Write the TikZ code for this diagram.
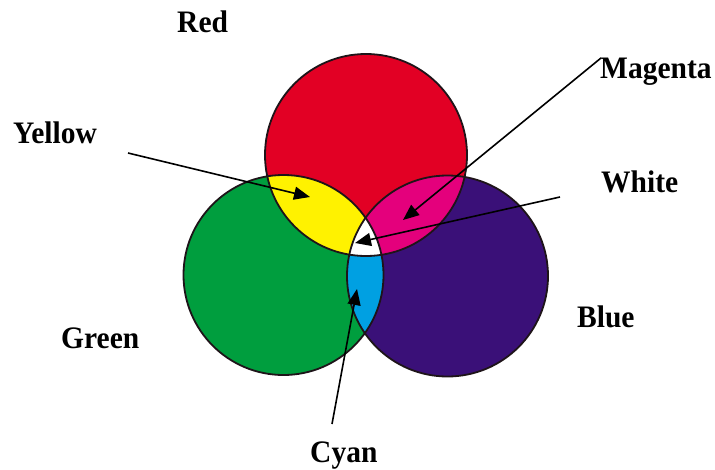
\documentclass[tikz,border=0pt]{standalone}
\usepackage{fontspec}
\setmainfont{Liberation Serif}
\usetikzlibrary{arrows.meta}
\definecolor{cred}{RGB}{226,0,36}
\definecolor{cgreen}{RGB}{0,158,62}
\definecolor{cblue}{RGB}{58,16,120}
\definecolor{cyellow}{RGB}{255,242,0}
\definecolor{cmagenta}{RGB}{228,0,124}
\definecolor{ccyan}{RGB}{0,160,226}
\definecolor{cline}{RGB}{30,20,25}
\begin{document}
\begin{tikzpicture}[x=1pt,y=-1pt,
  lbl/.style={anchor=base west,inner sep=0pt,yscale=1.06,font=\fontsize{29.5}{31}\selectfont\bfseries},
  ptr/.style={line width=1.6pt,-{Triangle[length=16pt,width=13pt]}},
  rim/.style={draw=cline,line width=1.8pt}]
\useasboundingbox (0,0) rectangle (715,469);
\def\rc{(366,155) circle[radius=101]}
\def\gc{(283.5,275) circle[radius=100]}
\def\bc{(447.5,276) circle[radius=100.5]}
% base fills
\fill[cred] \rc;
\fill[cgreen] \gc;
\fill[cblue] \bc;
% pair overlaps
\begin{scope}\clip \rc; \fill[cyellow] \gc; \fill[cmagenta] \bc; \end{scope}
\begin{scope}\clip \gc; \fill[ccyan] \bc; \end{scope}
\begin{scope}\clip \rc; \clip \gc; \fill[white] \bc; \end{scope}
% outlines
\draw[rim] \rc; \draw[rim] \gc; \draw[rim] \bc;
% labels
\node[lbl] (red) at (177,32) {Red};
\node[lbl] (magenta) at (600,78) {Magenta};
\node[lbl] (yellow) at (13,143) {Yellow};
\node[lbl] (white) at (601,192) {White};
\node[lbl] (green) at (61,348) {Green};
\node[lbl] (blue) at (577,327) {Blue};
\node[lbl] (cyan) at (310,462) {Cyan};
% arrow ends
\coordinate (ys) at (128,153); \coordinate (yt) at (310,197);
\coordinate (ms) at (601,58);  \coordinate (mt) at (403,220);
\coordinate (ws) at (560,197); \coordinate (wt) at (355,243);
\coordinate (cs) at (332,424); \coordinate (ct) at (357,289);
\draw[ptr] (ys) -- (yt);
\draw[ptr] (ms) -- (mt);
\draw[ptr] (ws) -- (wt);
\draw[ptr] (cs) -- (ct);
\end{tikzpicture}
\end{document}
